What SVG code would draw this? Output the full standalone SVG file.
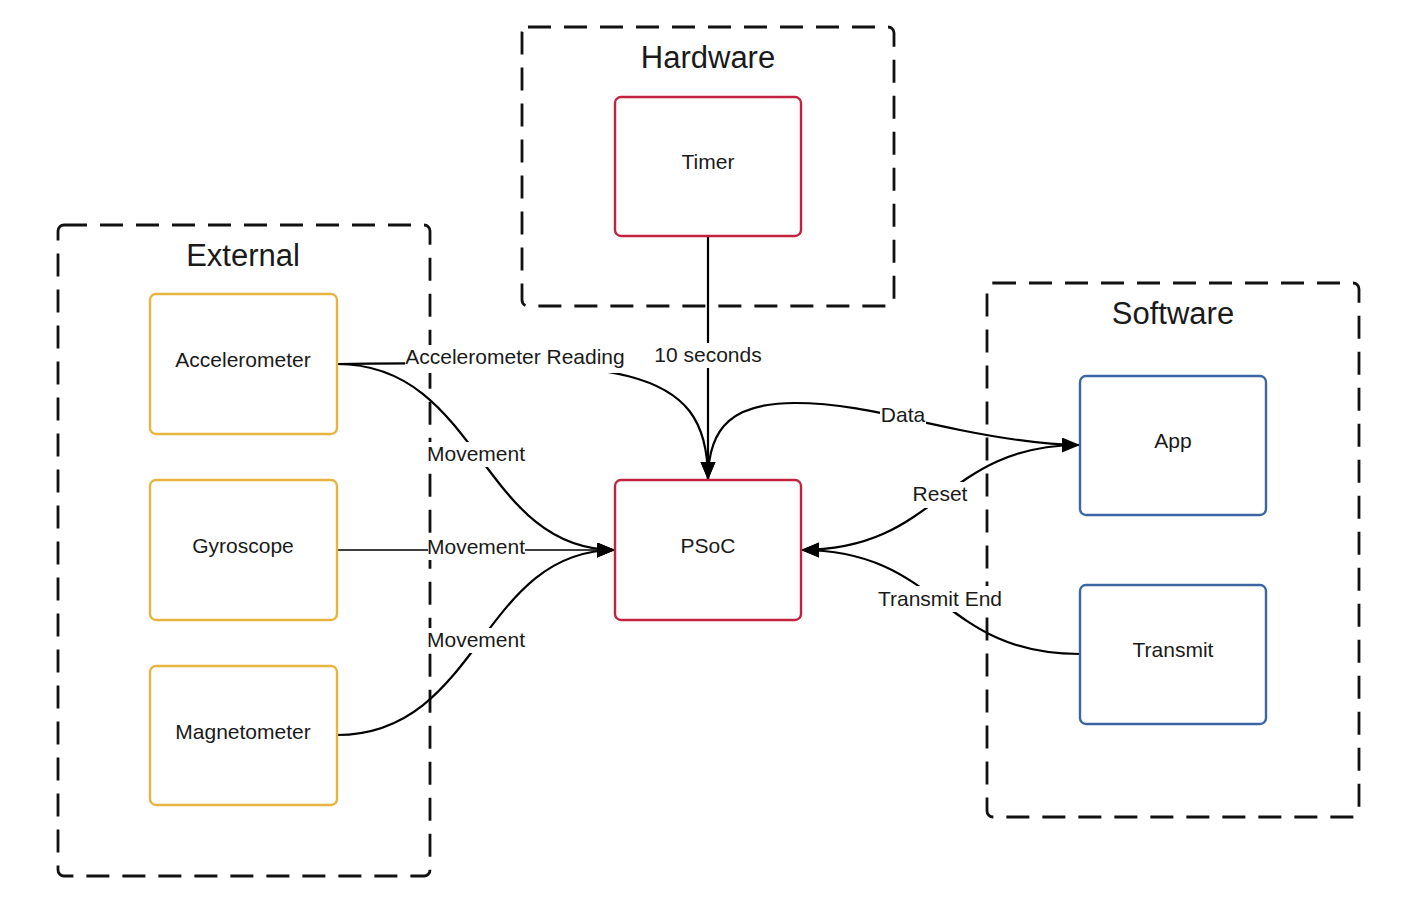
<svg xmlns="http://www.w3.org/2000/svg" width="1402" height="902" viewBox="0 0 1402 902">
<style>
text{font-family:"Liberation Sans",Arial,sans-serif;fill:#1a1a1a;text-anchor:middle}
.cont{fill:none;stroke:#111;stroke-width:2.8;stroke-dasharray:23 13}
.title{font-size:31px}
.nl{font-size:21px}
.yel{fill:#fff;stroke:#e6b43f;stroke-width:2.4}
.red{fill:#fff;stroke:#c1233e;stroke-width:2.4}
.blu{fill:#fff;stroke:#3b66a3;stroke-width:2.4}
.c{fill:none;stroke:#000;stroke-width:2.2}
.lbg{fill:#fff}
.cl{font-size:21px}
</style>
<defs>
<marker id="ah" markerUnits="userSpaceOnUse" markerWidth="20" markerHeight="16" refX="18" refY="7.5" orient="auto">
<path d="M0,0 L18,7.5 L0,15 Z" fill="#000"/>
</marker>
</defs>
<rect width="1402" height="902" fill="#fff"/>
<g id="external">
<rect class="cont" x="58" y="225" width="372" height="651" rx="6"/>
<text class="title" x="243" y="266">External</text>
</g>
<g id="hardware">
<rect class="cont" x="522" y="27" width="372" height="279" rx="6"/>
<text class="title" x="708" y="68">Hardware</text>
</g>
<g id="software">
<rect class="cont" x="987" y="283" width="372" height="534" rx="6"/>
<text class="title" x="1173" y="324">Software</text>
</g>
<g id="connectors">
<path class="c" d="M708,236 L708,480" marker-end="url(#ah)"/>
<path class="c" d="M337,364 C620,360 708,362 708,480" marker-end="url(#ah)"/>
<path class="c" d="M337,364 C480,364 480,550 615,550" marker-end="url(#ah)"/>
<path class="c" style="stroke-width:1.7" d="M337,550 L615,550" marker-end="url(#ah)"/>
<path class="c" d="M337,735 C480,735 480,550 615,550" marker-end="url(#ah)"/>
<path class="c" d="M708,480 C708,425 735,403 795,403 C850,403 900,418 960,430 C1010,440 1050,445 1080,445" marker-end="url(#ah)"/>
<path class="c" d="M1080,445 C940,445 941,550 801,550" marker-end="url(#ah)"/>
<path class="c" d="M1080,654 C940,654 941,550 801,550" marker-end="url(#ah)"/>
<rect class="lbg" x="405" y="345" width="220" height="28"/>
<text class="cl" x="515" y="364">Accelerometer Reading</text>
<rect class="lbg" x="654" y="343" width="108" height="25"/>
<text class="cl" x="708" y="362">10 seconds</text>
<rect class="lbg" x="428" y="442" width="97" height="25"/>
<text class="cl" x="476" y="461">Movement</text>
<rect class="lbg" x="428" y="535" width="97" height="25"/>
<text class="cl" x="476" y="554">Movement</text>
<rect class="lbg" x="428" y="628" width="97" height="25"/>
<text class="cl" x="476" y="647">Movement</text>
<rect class="lbg" x="880" y="403" width="46" height="25"/>
<text class="cl" x="903" y="422">Data</text>
<rect class="lbg" x="912" y="482" width="57" height="26"/>
<text class="cl" x="940" y="501">Reset</text>
<rect class="lbg" x="877" y="586" width="126" height="26"/>
<text class="cl" x="940" y="606">Transmit End</text>
</g>
<g id="accelerometer">
<rect class="yel" x="150" y="294" width="187" height="140" rx="6"/>
<text class="nl" x="243" y="367">Accelerometer</text>
</g>
<g id="gyroscope">
<rect class="yel" x="150" y="480" width="187" height="140" rx="6"/>
<text class="nl" x="243" y="553">Gyroscope</text>
</g>
<g id="magnetometer">
<rect class="yel" x="150" y="666" width="187" height="139" rx="6"/>
<text class="nl" x="243" y="739">Magnetometer</text>
</g>
<g id="timer">
<rect class="red" x="615" y="97" width="186" height="139" rx="6"/>
<text class="nl" x="708" y="169">Timer</text>
</g>
<g id="psoc">
<rect class="red" x="615" y="480" width="186" height="140" rx="6"/>
<text class="nl" x="708" y="553">PSoC</text>
</g>
<g id="app">
<rect class="blu" x="1080" y="376" width="186" height="139" rx="6"/>
<text class="nl" x="1173" y="448">App</text>
</g>
<g id="transmit">
<rect class="blu" x="1080" y="585" width="186" height="139" rx="6"/>
<text class="nl" x="1173" y="657">Transmit</text>
</g>
</svg>
